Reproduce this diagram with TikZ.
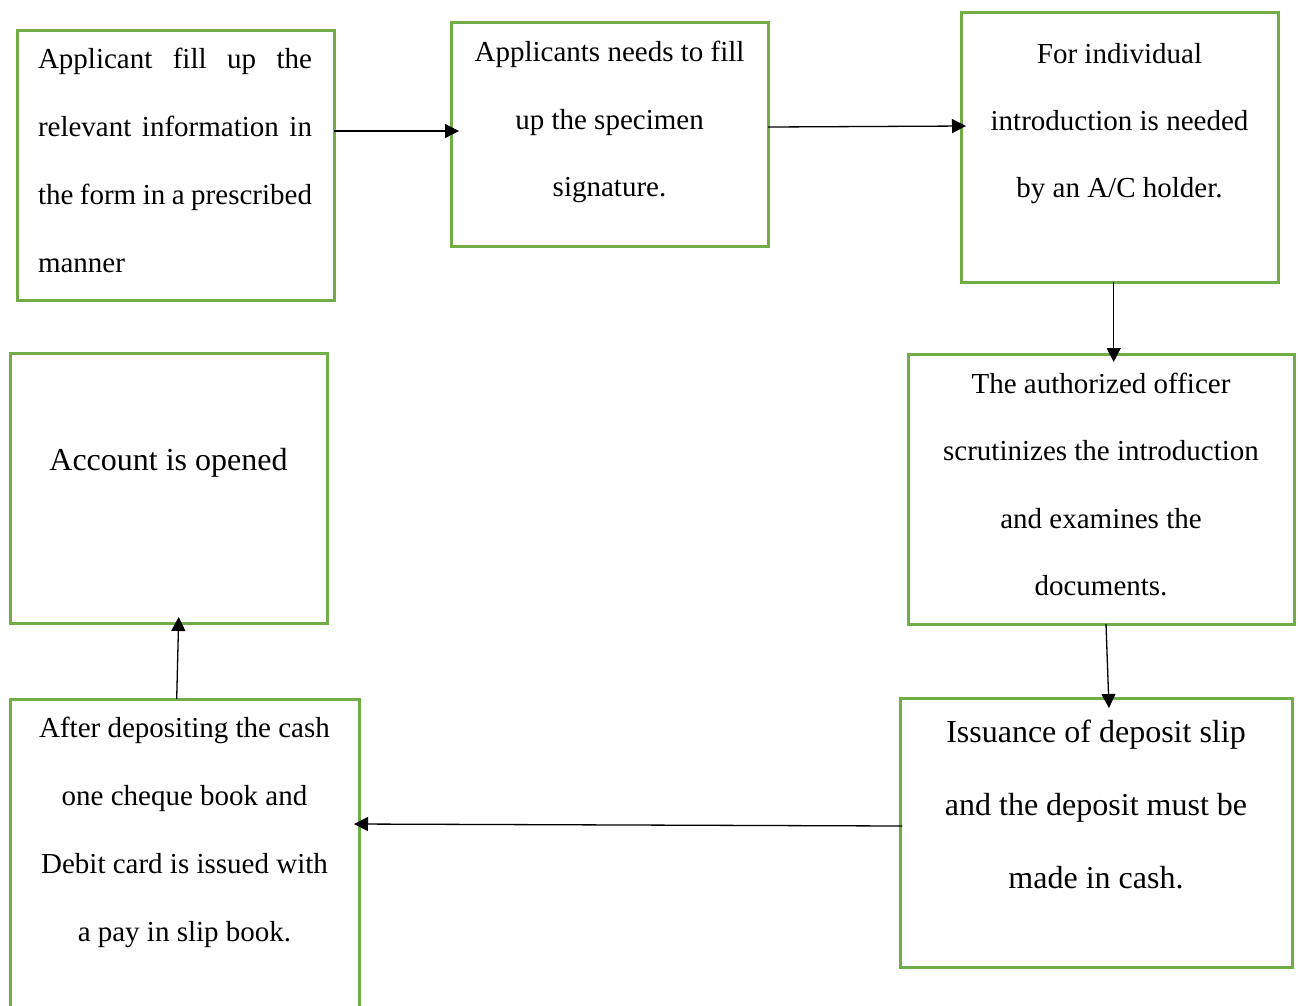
\documentclass[tikz,border=0pt]{standalone}
\usepackage{fontspec}
\setmainfont{Liberation Serif}
\usetikzlibrary{arrows.meta,calc}
\definecolor{boxgreen}{HTML}{70AD47}
\begin{document}
\begin{tikzpicture}[x=1pt,y=1pt,
  stepbox/.style={draw=boxgreen, line width=3pt, inner sep=0pt, outer sep=0pt, anchor=north west},
  steptext/.style={inner sep=0pt, outer sep=0pt, align=center, anchor=north, font=\fontsize{29}{67.5}\selectfont},
  bigtext/.style={steptext, font=\fontsize{32}{73.3}\selectfont},
  flow/.style={line width=1.3pt, -{Triangle[length=14pt,width=14pt]}}]
\useasboundingbox (0,0) rectangle (1298,-1005);

% boxes
\node[stepbox, minimum width=317pt, minimum height=270pt] (b1) at (17,-30) {};
\node[stepbox, minimum width=317pt, minimum height=224pt] (b2) at (451,-22) {};
\node[stepbox, minimum width=317pt, minimum height=270pt] (b3) at (961,-12) {};
\node[stepbox, minimum width=386pt, minimum height=270pt] (b4) at (908,-354) {};
\node[stepbox, minimum width=392pt, minimum height=269pt] (b5) at (900,-698) {};
\node[stepbox, minimum width=349pt, minimum height=330pt] (b6) at (10,-699) {};
\node[stepbox, minimum width=317pt, minimum height=270pt] (b7) at (10,-353) {};

% texts
\node[steptext, align=left, anchor=north west, font=\fontsize{29}{67.7}\selectfont] (t1) at (38,-48.5)
  {\makebox[274pt][s]{Applicant fill up the}\\
   \makebox[274pt][s]{relevant information in}\\
   \makebox[274pt][s]{the form in a prescribed}\\
   manner};
\node[steptext] (t2) at (609.5,-41.2)
  {Applicants needs to fill\\ up the specimen\\ signature.};
\node[steptext, font=\fontsize{29}{67}\selectfont] (t3) at (1119.5,-42.9)
  {For individual\\ introduction is needed\\ by an A/C holder.};
\node[steptext] (t4) at (1101,-372.9)
  {The authorized officer\\ scrutinizes the introduction\\ and examines the\\ documents.};
\node[bigtext] (t5) at (1096,-719.8)
  {Issuance of deposit slip\\ and the deposit must be\\ made in cash.};
\node[steptext, font=\fontsize{29}{67.8}\selectfont] (t6) at (184.5,-717.5)
  {After depositing the cash\\ one cheque book and\\ Debit card is issued with\\ a pay in slip book.};
\node[bigtext] (t7) at (168.5,-448.1) {Account is opened};

% connectors
\draw[flow] ($(b1.north east)+(0,-101)$) -- ($(b2.north west)+(8,-109)$);
\draw[flow] ($(b2.north east)+(0,-105)$) -- ($(b3.north west)+(5,-114)$);
\draw[flow] ($(b3.south west)+(152.7,0)$) -- ($(b4.north west)+(205.7,-8)$);
\draw[flow] ($(b4.south west)+(198,0)$) -- ($(b5.north west)+(209,-10)$);
\draw[flow] ($(b5.north west)+(2,-128)$) -- ($(b6.north east)+(-5,-125)$);
\draw[flow] ($(b6.north west)+(166.7,0)$) -- ($(b7.south west)+(168.7,6)$);
\end{tikzpicture}
\end{document}
